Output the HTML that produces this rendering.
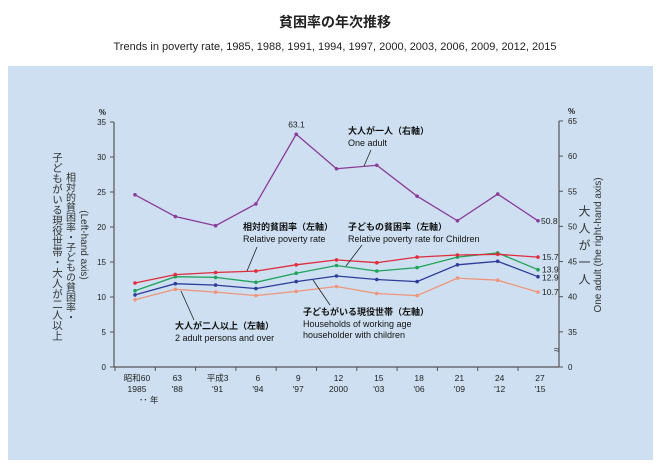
<!DOCTYPE html>
<html><head><meta charset="utf-8"><style>
body{margin:0;background:#fff;width:671px;height:468px;overflow:hidden;font-family:"Liberation Sans","Noto Sans CJK JP",sans-serif}
svg text{font-family:"Liberation Sans","Noto Sans CJK JP",sans-serif}
</style></head><body>
<svg width="671" height="468">
<text x="335" y="27" text-anchor="middle" font-size="14" font-weight="bold" fill="#222">貧困率の年次推移</text>
<text x="335" y="50" text-anchor="middle" font-size="11" fill="#222">Trends in poverty rate, 1985, 1988, 1991, 1994, 1997, 2000, 2003, 2006, 2009, 2012, 2015</text>
<rect x="8" y="66" width="645" height="394" fill="#cddff0"/>
<g id="axes"></g>
<g id="marks"></g>
<g font-size="9" fill="#111">
<text x="348" y="134" font-weight="bold">大人が一人（右軸）</text>
<text x="348" y="146">One adult</text>
<text x="243" y="230" font-weight="bold">相対的貧困率（左軸）</text>
<text x="243" y="242">Relative poverty rate</text>
<text x="348" y="230" font-weight="bold">子どもの貧困率（左軸）</text>
<text x="348" y="242">Relative poverty rate for Children</text>
<text x="175" y="329" font-weight="bold">大人が二人以上（左軸）</text>
<text x="175" y="341">2 adult persons and over</text>
<text x="303" y="315" font-weight="bold">子どもがいる現役世帯（左軸）</text>
<text x="303" y="327">Households of working age</text>
<text x="303" y="338">householder with children</text>
</g>
<g stroke="#222" stroke-width="0.8">
<line x1="371" y1="150" x2="364" y2="166"/>
<line x1="257" y1="247" x2="247" y2="271"/>
<line x1="362" y1="245" x2="346" y2="266"/>
<line x1="194" y1="320" x2="181" y2="291"/>
<line x1="330" y1="305" x2="313" y2="280"/>
</g>
<text x="57" y="152" font-size="10.5" fill="#333" style="writing-mode:vertical-rl">子どもがいる現役世帯・大人が二人以上</text>
<text x="69" y="172" font-size="10" fill="#333" style="writing-mode:vertical-rl">相対的貧困率・子どもの貧困率・</text>
<text x="0" y="0" font-size="10" fill="#333" transform="translate(81,245) rotate(90)" text-anchor="middle">(Left-hand axis)</text>
<text x="584" y="205" font-size="12" fill="#333" style="writing-mode:vertical-rl;letter-spacing:5px">大人が一人</text>
<text x="0" y="0" font-size="10" fill="#333" transform="translate(601,245) rotate(-90)" text-anchor="middle">One adult (the right-hand axis)</text>
</svg>
<script>
const years=["昭和60|1985","63|'88","平成3|'91","6|'94","9|'97","12|2000","15|'03","18|'06","21|'09","24|'12","27|'15"];
const relative=[12.0,13.2,13.5,13.7,14.6,15.3,14.9,15.7,16.0,16.1,15.7];
const children=[10.9,12.9,12.8,12.1,13.4,14.5,13.7,14.2,15.7,16.3,13.9];
const households=[10.3,11.9,11.7,11.2,12.2,13.0,12.5,12.2,14.6,15.1,12.9];
const twoAdults=[9.6,11.1,10.7,10.2,10.8,11.5,10.5,10.2,12.7,12.4,10.7];
const oneAdult=[54.5,51.4,50.1,53.2,63.1,58.2,58.7,54.3,50.8,54.6,50.8];
const leftTicks=[0,5,10,15,20,25,30,35];
const rightTicks=[35,40,45,50,55,60,65];
const NS="http://www.w3.org/2000/svg";
const X0=114,X1=559,Y0=367;
function xs(i){return 135+i*40.3;}
function yl(v){return Y0-v*7;}
function yr(v){return Y0-(v-30)*7.03;}
const ax=document.getElementById('axes'),mk=document.getElementById('marks');
function el(t,a,p){const e=document.createElementNS(NS,t);for(const k in a)e.setAttribute(k,a[k]);(p||ax).appendChild(e);return e;}
let e=el('line',{x1:X0,y1:Y0,x2:X1,y2:Y0,stroke:'#555','stroke-width':1.2});


e=el('line',{x1:X0,y1:Y0,x2:X0,y2:yl(35),stroke:'#555','stroke-width':1.2});


e=el('line',{x1:X1,y1:Y0,x2:X1,y2:yr(65),stroke:'#555','stroke-width':1.2});


el('text',{x:554,y:353,'font-size':10,fill:'#333'}).textContent='≈';
leftTicks.forEach(v=>{el('line',{x1:X0-4,y1:yl(v),x2:X0,y2:yl(v),stroke:'#555'});
const t=el('text',{x:X0-8,y:yl(v)+3,'font-size':8,fill:'#222','text-anchor':'end'});t.textContent=v;

});
el('text',{x:X0-8,y:yl(35)-7,'font-size':8,fill:'#222','text-anchor':'end','font-weight':'bold'}).textContent='%';
el('line',{x1:X1,y1:Y0,x2:X1+4,y2:Y0,stroke:'#555'});
el('text',{x:X1+9,y:Y0+3,'font-size':8,fill:'#222'}).textContent='0';
rightTicks.forEach(v=>{el('line',{x1:X1,y1:yr(v),x2:X1+4,y2:yr(v),stroke:'#555'});
const t=el('text',{x:X1+9,y:yr(v)+3,'font-size':8,fill:'#222'});t.textContent=v;

});
el('text',{x:X1+9,y:yr(65)-7,'font-size':8,fill:'#222','font-weight':'bold'}).textContent='%';
years.forEach((y,i)=>{const p=y.split('|');
el('line',{x1:xs(i)-20,y1:Y0,x2:xs(i)-20,y2:Y0+4,stroke:'#555'});
const a=el('text',{x:xs(i)+2,y:Y0+14,'font-size':8.5,fill:'#222','text-anchor':'middle'});a.textContent=p[0];


el('text',{x:xs(i)+2,y:Y0+25,'font-size':8.5,fill:'#222','text-anchor':'middle'}).textContent=p[1];});
el('text',{x:139,y:Y0+36,'font-size':8.5,fill:'#222'}).textContent='･･ 年';
function series(d,f,c,name){
const l=el('polyline',{points:d.map((v,i)=>xs(i)+','+f(v)).join(' '),fill:'none',stroke:c,'stroke-width':1.3},mk);


d.forEach((v,i)=>{const c2=el('circle',{cx:xs(i),cy:f(v),r:1.8,fill:c},mk);

});}
series(oneAdult,yr,'#8b3a9a','one-adult-line');
series(twoAdults,yl,'#f0957a','two-adults-line');
series(households,yl,'#2e3c9a','households-line');
series(children,yl,'#1fa35a','children-line');
series(relative,yl,'#e02c3c','relative-line');
const L=oneAdult.length-1;
function lab(t,x,y,n){const a=el('text',{x:x,y:y,'font-size':8.5,fill:'#222'},mk);a.textContent=t;

}
lab(oneAdult[4].toFixed(1),xs(4)-8,yr(oneAdult[4])-7,'peak-value-label');
lab(oneAdult[L].toFixed(1),xs(L)+3,yr(oneAdult[L])+3,'end-label-one-adult');
lab(relative[L].toFixed(1),xs(L)+4,yl(relative[L])+3,'end-label-relative');
lab(children[L].toFixed(1),xs(L)+4,yl(children[L])+3,'end-label-children');
lab(households[L].toFixed(1),xs(L)+4,yl(households[L])+4,'end-label-households');
lab(twoAdults[L].toFixed(1),xs(L)+4,yl(twoAdults[L])+3,'end-label-two-adults');
</script>
</body></html>
